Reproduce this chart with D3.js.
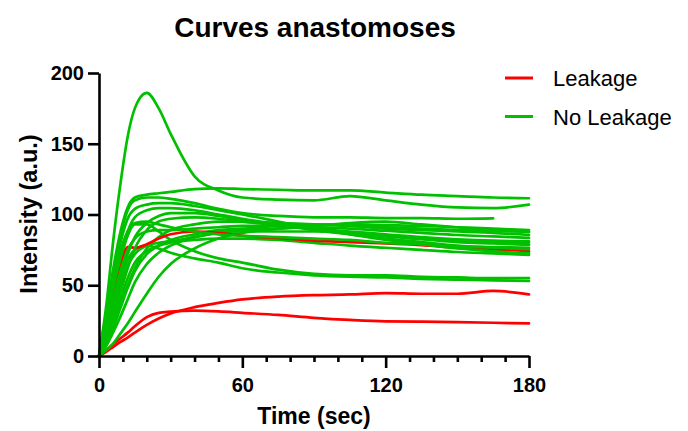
<!DOCTYPE html>
<html>
<head>
<meta charset="utf-8">
<script src="https://cdn.jsdelivr.net/npm/d3@7"></script>
<style>
  body { margin: 0; background: #fff; }
  svg { display: block; font-family: "Liberation Sans", Arial, sans-serif; }
</style>
</head>
<body>
<div class="chart"></div>
<script>
// sample times (sec) shared by every curve
const times = [0, 3, 6, 9, 12, 15, 20, 25, 30, 40, 50, 60, 75, 90, 105, 120, 135, 150, 165, 180];

// No Leakage curves
const gPeak  = [0, 35, 82, 122, 155, 175, 186, 175, 157, 127, 117, 112, 110.5, 110, 113, 110, 107, 105, 104.5, 107];
const gWavy  = [0, 30, 62, 88, 105, 112, 114, 115, 116, 118, 118.5, 118, 117.5, 117, 117, 115.5, 114, 113, 112, 111.5];
const gShort = [0, 28, 58, 85, 103, 110, 112, 112, 111, 108, 104, 101, 99, 98, 98, 97.5, 97.5, 97, 97.3, null];
const gB1 = [0, 25, 55, 80, 97, 104, 107, 108, 108, 106, 103, 100, 95, 90, 86, 82, 79, 76, 74, 72.5];
const gB2 = [0, 22, 48, 70, 88, 98, 103, 104.5, 104.5, 103, 100, 97, 93, 89, 86, 83, 80.5, 78, 76.5, 75.5];
const gB3 = [0, 15, 35, 55, 72, 84, 94, 99, 101, 101, 99, 96, 93, 90, 87, 84.5, 82.5, 80.5, 79.5, 78.5];
const gB4 = [0, 12, 28, 45, 62, 76, 89, 95, 97, 98, 97, 95, 92.5, 90, 88, 86, 84, 82.5, 81.5, 81];
const gB5 = [0, 18, 40, 60, 75, 83, 88, 89, 89, 90, 91, 92, 92, 91, 90, 88.5, 87, 85.5, 84.5, 83.5];
const gB6 = [0, 8, 20, 34, 48, 60, 72, 78, 82, 86, 89, 90, 92, 93, 92, 90, 89, 88, 87, 85.5];
const gB7 = [0, 7, 17, 28, 40, 52, 65, 73, 78, 84, 87, 89, 90, 92, 94, 95, 93, 91, 89, 87.5];
const gB8 = [0, 4, 9, 16, 23, 31, 44, 56, 65, 76, 83, 87, 90, 92, 93, 92.5, 92, 91, 90, 89];
const gB9 = [0, 10, 24, 40, 55, 66, 74, 78, 80, 82, 83, 83, 82, 80, 78, 76.5, 75, 73.5, 72.5, 71.5];
const gB10 = [0, 14, 32, 50, 64, 72, 78, 80, 81, 84, 87, 88, 88, 88, 87, 85, 83, 81.5, 80.5, 80];
const gB11 = [0, 24, 52, 74, 88, 94, 95, 93, 91, 88, 86, 85, 84, 83, 82, 80, 79, 77.5, 77, 76.5];
const gB12 = [0, 10, 22, 36, 50, 62, 76, 84, 89, 93, 95, 95, 94, 93, 92, 91, 90, 89, 88.5, 88];
const gLow1 = [0, 20, 45, 68, 85, 93, 93, 88, 82, 74, 69, 66, 61, 58, 57, 57, 56, 55.5, 55, 55];
const gLow2 = [0, 15, 35, 55, 68, 75, 78, 76, 73, 69, 66, 62, 59, 57, 56, 55.5, 54.5, 54, 53.5, 53];

// Leakage curves
const rHigh = [0, 21, 42, 62, 77, 76.5, 79, 83, 86, 88, 87, 85, 83.5, 81.5, 80.5, 79.5, 78.4, 76.5, 75.5, 74];
const rMid  = [0, 3, 6.5, 10, 13, 16.5, 22, 26.5, 30, 34.5, 37.5, 40, 42, 43, 43.5, 44.5, 44, 44, 46, 43.5];
const rLow  = [0, 4, 8.5, 12.5, 16.5, 21, 27.5, 30.5, 31.3, 32, 31.5, 30.5, 29, 27, 25.5, 24.5, 24.3, 24, 23.5, 23];

const groups = ["Leakage", "No Leakage"];
const colors = {"Leakage": "#ff0000", "No Leakage": "#00c000"};

const yTicks = [0, 50, 100, 150, 200];
const xMajor = [0, 60, 120, 180];
const xMinor = [10, 20, 30, 40, 50, 70, 80, 90, 100, 110, 130, 140, 150, 160, 170];

const series = [
  {group: "Leakage", values: rMid},
  {group: "Leakage", values: rLow},
  {group: "No Leakage", values: gB8},
  {group: "No Leakage", values: gB7},
  {group: "No Leakage", values: gB12},
  {group: "No Leakage", values: gB6},
  {group: "No Leakage", values: gB9},
  {group: "No Leakage", values: gB10},
  {group: "No Leakage", values: gLow2},
  {group: "No Leakage", values: gLow1},
  {group: "Leakage", values: rHigh},
  {group: "No Leakage", values: gB11},
  {group: "No Leakage", values: gB5},
  {group: "No Leakage", values: gB4},
  {group: "No Leakage", values: gB3},
  {group: "No Leakage", values: gB2},
  {group: "No Leakage", values: gB1},
  {group: "No Leakage", values: gShort},
  {group: "No Leakage", values: gWavy},
  {group: "No Leakage", values: gPeak}
];

const width = 688, height = 431;
const margin = {top: 73, right: 159, bottom: 75, left: 99};

const svg = d3.select(".chart")
  .append("svg")
    .attr("width", width)
    .attr("height", height);

const x = d3.scaleLinear()
  .domain([0, 180])
  .range([margin.left, width - margin.right]);

const y = d3.scaleLinear()
  .domain([0, 200])
  .range([height - margin.bottom, margin.top]);

const line = d3.line()
  .defined(d => d[1] != null)
  .x(d => x(d[0]))
  .y(d => y(d[1]))
  .curve(d3.curveMonotoneX);

svg.append("g")
  .selectAll("path")
  .data(series)
  .join("path")
    .attr("fill", "none")
    .attr("stroke", d => colors[d.group])
    .attr("stroke-width", 2.7)
    .attr("stroke-linejoin", "round")
    .attr("stroke-linecap", "round")
    .attr("d", d => line(times.map((t, i) => [t, d.values[i]])));

// axes
const styleAxis = g => {
  g.selectAll(".domain, .tick line")
    .attr("stroke", "#000")
    .attr("stroke-width", 2.6);
  g.selectAll(".tick text")
    .attr("fill", "#000")
    .attr("font-size", 20)
    .attr("font-weight", "bold");
};

svg.append("g")
  .attr("transform", `translate(0,${y(0)})`)
  .call(d3.axisBottom(x).tickValues(xMinor).tickSize(6).tickFormat(""))
  .call(g => g.select(".domain").remove())
  .call(styleAxis);

svg.append("g")
  .attr("transform", `translate(0,${y(0)})`)
  .call(d3.axisBottom(x).tickValues(xMajor).tickSize(12).tickSizeOuter(0).tickPadding(10))
  .call(styleAxis);

svg.append("g")
  .attr("transform", `translate(${x(0)},0)`)
  .call(d3.axisLeft(y).tickValues(yTicks).tickSize(11).tickSizeOuter(0).tickPadding(4))
  .call(styleAxis);

// titles
svg.append("text")
  .attr("x", 315)
  .attr("y", 37)
  .attr("text-anchor", "middle")
  .attr("font-size", 28)
  .attr("font-weight", "bold")
  .text("Curves anastomoses");

svg.append("text")
  .attr("x", 314)
  .attr("y", 424)
  .attr("text-anchor", "middle")
  .attr("font-size", 23)
  .attr("font-weight", "bold")
  .text("Time (sec)");

svg.append("text")
  .attr("transform", `translate(37,${214}) rotate(-90)`)
  .attr("text-anchor", "middle")
  .attr("font-size", 23.5)
  .attr("font-weight", "bold")
  .text("Intensity (a.u.)");

// legend
const legend = svg.append("g")
  .selectAll("g")
  .data(groups)
  .join("g")
    .attr("transform", (d, i) => `translate(505,${78 + i * 38.5})`);

legend.append("line")
  .attr("x1", 0)
  .attr("x2", 28)
  .attr("stroke", d => colors[d])
  .attr("stroke-width", 3);

legend.append("text")
  .attr("x", 48)
  .attr("y", 8)
  .attr("font-size", 22)
  .text(d => d);
</script>
</body>
</html>
